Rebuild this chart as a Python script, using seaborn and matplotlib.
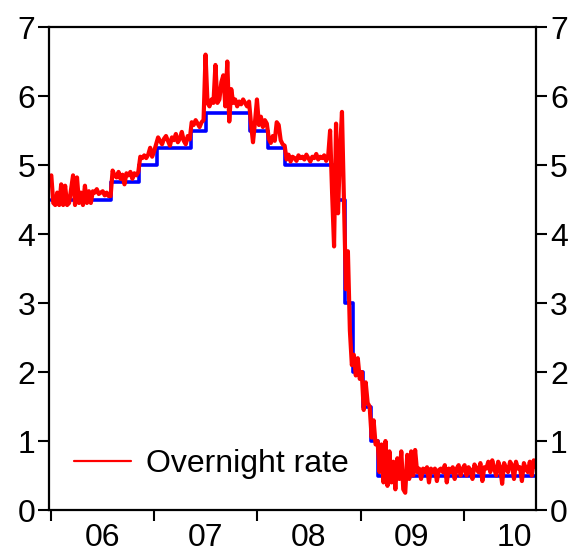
import numpy as np
import pandas as pd
import matplotlib
matplotlib.use("Agg")
import matplotlib.pyplot as plt
import matplotlib.dates as mdates
import matplotlib.ticker as mticker
import seaborn as sns

# Policy (Bank) rate, step changes
policy_dates = ["2006-01-01", "2006-08-03", "2006-11-09", "2007-01-11", "2007-05-10",
                "2007-07-05", "2007-12-06", "2008-02-07", "2008-04-10", "2008-10-08",
                "2008-11-06", "2008-12-04", "2009-01-08", "2009-02-05", "2009-03-05",
                "2010-09-14"]
policy_rate = [4.5, 4.75, 5.0, 5.25, 5.5, 5.75, 5.5, 5.25, 5.0, 4.5,
               3.0, 2.0, 1.5, 1.0, 0.5, 0.5]

# Overnight rate, weekly readings starting 2006-01-02
overnight_start = "2006-01-02"
overnight_2006 = [4.85, 4.45, 4.42, 4.6, 4.42,
                  4.72, 4.42, 4.7, 4.42, 4.45, 4.65,
                  4.85, 4.42, 4.82, 4.45, 4.6,
                  4.42, 4.7, 4.45, 4.62, 4.45,
                  4.62, 4.6, 4.65, 4.58, 4.6, 4.62, 4.56, 4.6, 4.55,
                  4.55,
                  4.92, 4.85, 4.82, 4.9, 4.8, 4.86, 4.72, 4.88, 4.85, 4.9, 4.8, 4.88, 4.85, 4.9,
                  5.12, 5.1, 5.14, 5.1, 5.15, 5.25, 5.12]
overnight_2007 = [5.2, 5.3,
                  5.4, 5.35, 5.3, 5.38, 5.42, 5.35, 5.28, 5.4, 5.36, 5.45, 5.33, 5.38, 5.48,
                  5.35, 5.3, 5.42, 5.37,
                  5.62, 5.58, 5.65, 5.6, 5.55, 5.62, 5.65,
                  6.6, 5.9,
                  5.85, 5.95, 5.9, 6.45, 5.9, 5.95, 6.2, 6.3, 5.85, 6.5, 5.63, 6.1, 5.9, 5.95,
                  5.85, 5.92, 5.88, 5.95, 5.9, 5.85, 5.92,
                  5.6, 5.33, 5.62]
overnight_2008 = [5.95, 5.58, 5.7, 5.55, 5.65, 5.6,
                  5.38, 5.32, 5.42, 5.35, 5.62, 5.58, 5.36, 5.3, 5.28,
                  5.08, 5.15, 5.05, 5.12, 5.1, 5.06, 5.14, 5.1, 5.12, 5.08, 5.15, 5.1, 5.05,
                  5.12, 5.1, 5.16, 5.08, 5.12, 5.1, 5.14, 5.06, 5.12,
                  5.5, 4.6, 3.82, 5.6, 4.3, 5.2, 5.77, 4.5,
                  3.2, 3.75, 2.6, 2.1, 2.25, 1.95, 2.2, 1.9]
overnight_2009 = [2.0, 1.45, 1.85, 1.55, 1.5, 1.05, 1.3, 0.95, 1.0, 0.55, 0.95, 0.4, 1.0, 0.35,
                  0.85, 0.4, 0.7, 0.3, 0.75, 0.45, 0.85, 0.3, 0.25, 0.8, 0.45, 0.85, 0.5, 0.87,
                  0.55, 0.6, 0.45, 0.6, 0.55, 0.62, 0.4, 0.6, 0.55, 0.6, 0.42, 0.58, 0.6, 0.55,
                  0.65, 0.4, 0.6, 0.55, 0.62, 0.45, 0.6, 0.65, 0.5, 0.6]
overnight_2010 = [0.65, 0.5, 0.62, 0.58, 0.45, 0.66, 0.6, 0.55, 0.68, 0.42, 0.62, 0.6, 0.7,
                  0.55, 0.72, 0.6, 0.5, 0.7, 0.62, 0.38, 0.68, 0.6, 0.55, 0.7, 0.65, 0.45,
                  0.7, 0.6, 0.62, 0.42, 0.68, 0.6, 0.55, 0.7, 0.5, 0.72, 0.62]

year_labels = ["06", "07", "08", "09", "10"]
year_label_dates = ["2006-07-01", "2007-07-01", "2008-07-01", "2009-07-01", "2010-07-01"]
y_ticks = [0, 1, 2, 3, 4, 5, 6, 7]

overnight = overnight_2006 + overnight_2007 + overnight_2008 + overnight_2009 + overnight_2010
on_dates = pd.date_range(overnight_start, periods=len(overnight), freq="7D")
df_on = pd.DataFrame({"date": on_dates, "rate": overnight})
df_pol = pd.DataFrame({"date": pd.to_datetime(policy_dates), "rate": policy_rate})

sns.set_theme(style="ticks")
plt.rcParams["font.family"] = ["Liberation Sans", "DejaVu Sans"]
plt.rcParams["text.color"] = "black"

fig = plt.figure(figsize=(5.77, 5.58), dpi=100)
ax = fig.add_axes([0.085, 0.086, 0.844, 0.8656])

sns.lineplot(data=df_pol, x="date", y="rate", drawstyle="steps-post", color="#0000ff",
             lw=2.6, ax=ax, legend=False)
sns.lineplot(data=df_on, x="date", y="rate", color="#ff0000", lw=3.0, ax=ax,
             label="Overnight rate")

ax.set_xlim(pd.Timestamp("2005-12-25"), pd.Timestamp("2010-09-14"))
ax.set_ylim(0, 7)
ax.set_xlabel("")
ax.set_ylabel("")

ax.xaxis.set_major_locator(mdates.YearLocator())
ax.xaxis.set_major_formatter(mticker.NullFormatter())
ax.set_xticks(pd.to_datetime(year_label_dates), labels=year_labels, minor=True)
ax.set_yticks(y_ticks)

ax.tick_params(axis="x", which="major", direction="out", length=8, width=1.5, color="black")
ax.tick_params(axis="x", which="minor", length=0, pad=9, labelsize=23, labelcolor="black")
ax.tick_params(axis="y", which="major", direction="out", length=8, width=1.5,
               left=True, right=True, labelleft=True, labelright=True,
               labelsize=23, pad=2, color="black", labelcolor="black")

for s in ax.spines.values():
    s.set_visible(True)
    s.set_linewidth(1.6)
    s.set_color("black")

handles, labels = ax.get_legend_handles_labels()
leg = ax.legend(handles, labels, loc="center left", bbox_to_anchor=(0.051, 0.095),
                frameon=False, fontsize=23, handlelength=1.8, handletextpad=0.45,
                borderpad=0, borderaxespad=0, labelcolor="black")
for h in leg.get_lines():
    h.set_linewidth(1.6)

fig.savefig("out.png", dpi=100, facecolor="white")
